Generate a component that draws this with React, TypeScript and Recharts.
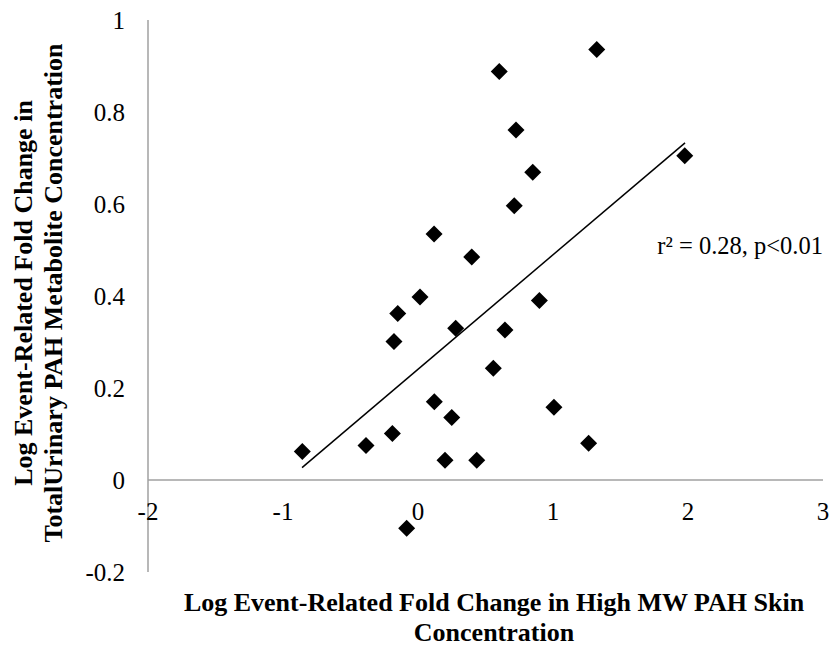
import { ScatterChart, Scatter, XAxis, YAxis, ReferenceLine } from 'recharts';

// Values
const xValues = [
  -0.857, -0.385, -0.19, -0.178, -0.15, 0.015, 0.279, 0.121, 0.25, 0.2, 0.435, -0.084, 0.558,
  0.899, 0.644, 1.007, 1.264, 1.324, 0.602, 0.726, 0.85, 0.713, 1.976, 0.119, 0.398,
];
const yValues = [
  0.062, 0.075, 0.101, 0.301, 0.362, 0.398, 0.33, 0.17, 0.136, 0.043, 0.043, -0.105, 0.243,
  0.39, 0.326, 0.158, 0.08, 0.936, 0.888, 0.761, 0.669, 0.596, 0.705, 0.535, 0.485,
];

// linear trendline end points
const trendX = [-0.859, 1.978];
const trendY = [0.027, 0.733];

const xTicks = [-2, -1, 0, 1, 2, 3];
const yTicks = [-0.2, 0, 0.2, 0.4, 0.6, 0.8, 1];

const points = xValues.map((x, i) => ({ x, y: yValues[i] }));

const FONT = '"Liberation Serif", "Times New Roman", serif';
const AXIS_GREY = '#a0a0a0';

const Diamond = (props: any) => {
  const { cx, cy } = props;
  const r = 8.5;
  return (
    <polygon
      points={`${cx},${cy - r} ${cx + r},${cy} ${cx},${cy + r} ${cx - r},${cy}`}
      fill="#000"
    />
  );
};

const XTick = (props: any) => {
  const { x, y, payload } = props;
  // labels sit just under the y=0 line, not at the plot bottom
  return (
    <text x={x} y={y - 52} textAnchor="middle" fontFamily={FONT} fontSize={25} fill="#000">
      {payload.value}
    </text>
  );
};

export default function App() {
  return (
    <div style={{ position: 'absolute', left: 0, top: 0, width: 835, height: 646, background: '#fff' }}>
      <ScatterChart width={835} height={646} margin={{ top: 20, right: 12, left: 0, bottom: 0 }}>
        <XAxis
          type="number"
          dataKey="x"
          domain={[-2, 3]}
          ticks={xTicks}
          axisLine={false}
          tickLine={false}
          tickSize={0}
          tickMargin={0}
          height={74}
          tick={<XTick />}
        />
        <YAxis
          type="number"
          dataKey="y"
          domain={[-0.2, 1]}
          ticks={yTicks}
          width={148}
          axisLine={{ stroke: AXIS_GREY, strokeWidth: 1.5 }}
          tickLine={false}
          tickSize={0}
          tickMargin={23}
          tick={{ fontFamily: FONT, fontSize: 25, fill: '#000' }}
        />
        <ReferenceLine y={0} stroke={AXIS_GREY} strokeWidth={1.5} />
        <Scatter data={points} shape={<Diamond />} isAnimationActive={false} />
        <ReferenceLine
          segment={[
            { x: trendX[0], y: trendY[0] },
            { x: trendX[1], y: trendY[1] },
          ]}
          stroke="#000"
          strokeWidth={1.5}
        />
      </ScatterChart>

      {/* r² annotation */}
      <div
        style={{
          position: 'absolute',
          right: 12,
          top: 234,
          fontFamily: FONT,
          fontSize: 24.5,
          lineHeight: 1,
          whiteSpace: 'nowrap',
        }}
      >
        r² = 0.28, p&lt;0.01
      </div>

      {/* x axis title */}
      <div
        style={{
          position: 'absolute',
          left: 494,
          top: 588,
          transform: 'translateX(-50%)',
          fontFamily: FONT,
          fontSize: 26,
          fontWeight: 'bold',
          lineHeight: '30px',
          textAlign: 'center',
          whiteSpace: 'nowrap',
        }}
      >
        <div>Log Event-Related Fold Change in High MW PAH Skin</div>
        <div>Concentration</div>
      </div>

      {/* y axis title */}
      <div
        style={{
          position: 'absolute',
          left: -241,
          top: 263,
          width: 560,
          height: 60,
          transform: 'rotate(-90deg)',
          transformOrigin: 'center',
          fontFamily: FONT,
          fontSize: 26,
          fontWeight: 'bold',
          lineHeight: '30px',
          textAlign: 'center',
          whiteSpace: 'nowrap',
        }}
      >
        <div>Log Event-Related Fold Change in</div>
        <div>TotalUrinary PAH Metabolite Concentration</div>
      </div>
    </div>
  );
}
